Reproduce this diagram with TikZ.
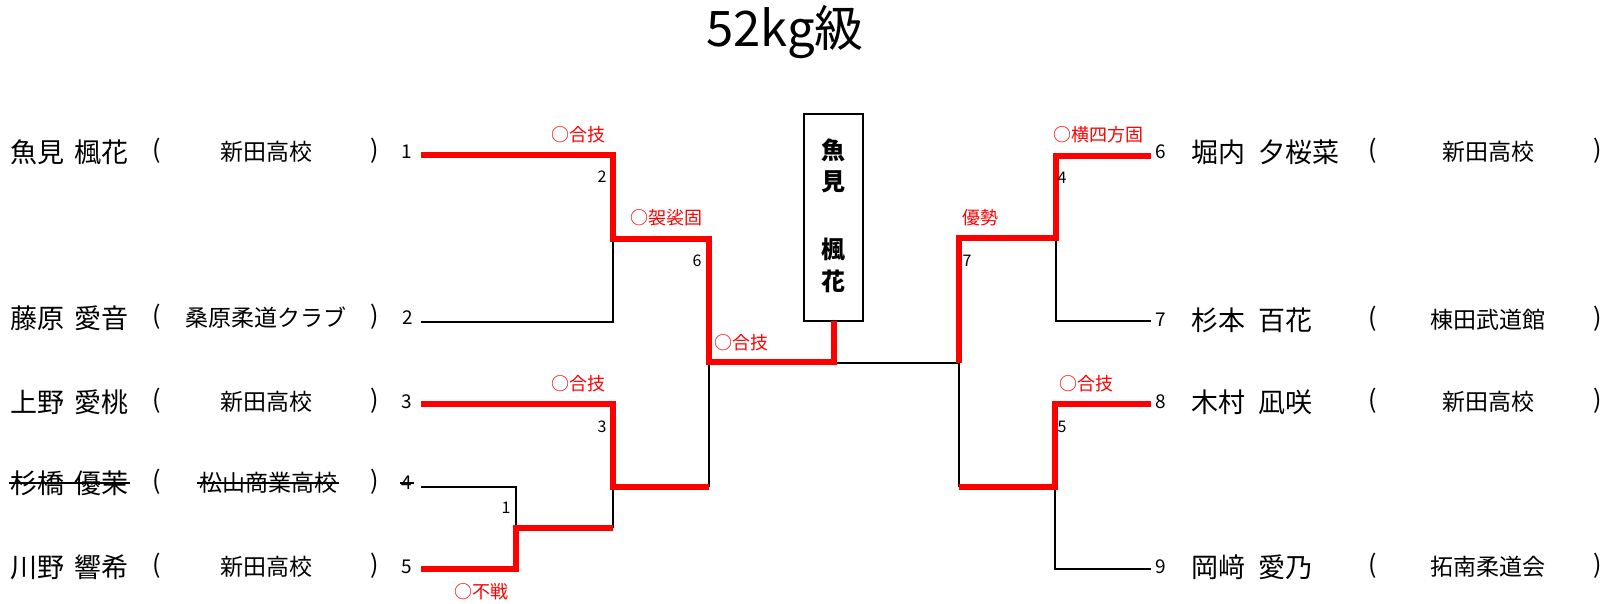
\documentclass[tikz,border=0pt]{standalone}
\usepackage{fontspec}
\setmainfont{Noto Sans CJK JP}
\begin{document}
\begin{tikzpicture}[x=1pt,y=-1pt,
  every node/.style={inner sep=0pt, outer sep=0pt},
  win/.style={draw=red, line width=6pt, line join=miter},
  lose/.style={draw=black, line width=1.8pt},
  namet/.style={font=\fontsize{27}{29}\selectfont, anchor=west},
  scht/.style={font=\fontsize{23}{25}\selectfont},
  part/.style={font=\fontsize{25}{27}\selectfont},
  seedt/.style={font=\fontsize{19}{21}\selectfont},
  matcht/.style={font=\fontsize{16}{18}\selectfont},
  rest/.style={font=\fontsize{18}{20}\selectfont, text=red},
  strike/.style={draw=black, line width=1.6pt},
]
\useasboundingbox (0,0) rectangle (1620,603);

% title
\node[font=\fontsize{49}{52}\selectfont] (title) at (785,32) {52kg級};

% ---------- left entries ----------
\node[namet] (n1) at (10,152) {魚見\hspace{11pt}楓花};
\node[part] (o1) at (157,151) {(};
\node[scht] (s1) at (266,152) {新田高校};
\node[part] (c1) at (375,151) {)};
\node[seedt] (k1) at (407,152) {1};

\node[namet] (n2) at (10,318) {藤原\hspace{11pt}愛音};
\node[part] (o2) at (157,317) {(};
\node[scht] (s2) at (266,318) {桑原柔道クラブ};
\node[part] (c2) at (375,317) {)};
\node[seedt] (k2) at (408,318) {2};

\node[namet] (n3) at (10,402) {上野\hspace{11pt}愛桃};
\node[part] (o3) at (157,401) {(};
\node[scht] (s3) at (266,402) {新田高校};
\node[part] (c3) at (375,401) {)};
\node[seedt] (k3) at (407,402) {3};

\node[namet] (n4) at (10,483) {杉橋\hspace{11pt}優茉};
\node[part] (o4) at (157,482) {(};
\node[scht] (s4) at (268,483) {松山商業高校};
\node[part] (c4) at (375,482) {)};
\node[seedt] (k4) at (407,483) {4};
\draw[strike] ([xshift=-1pt]n4.west) -- ([xshift=1pt]n4.east);
\draw[strike] ([xshift=-2pt]s4.west) -- ([xshift=2pt]s4.east);
\draw[strike] ([xshift=-2pt]k4.west) -- ([xshift=2pt]k4.east);

\node[namet] (n5) at (10,567) {川野\hspace{11pt}響希};
\node[part] (o5) at (157,566) {(};
\node[scht] (s5) at (266,567) {新田高校};
\node[part] (c5) at (375,566) {)};
\node[seedt] (k5) at (407,567) {5};

% ---------- right entries ----------
\node[seedt] (k6) at (1161,152) {6};
\node[namet] (n6) at (1191,152) {堀内\hspace{13pt}夕桜菜};
\node[part] (o6) at (1373,151) {(};
\node[scht] (s6) at (1488,152) {新田高校};
\node[part] (c6) at (1598,151) {)};

\node[seedt] (k7) at (1161,320) {7};
\node[namet] (n7) at (1191,320) {杉本\hspace{13pt}百花};
\node[part] (o7) at (1373,319) {(};
\node[scht] (s7) at (1488,320) {棟田武道館};
\node[part] (c7) at (1598,319) {)};

\node[seedt] (k8) at (1161,402) {8};
\node[namet] (n8) at (1191,402) {木村\hspace{13pt}凪咲};
\node[part] (o8) at (1373,401) {(};
\node[scht] (s8) at (1488,402) {新田高校};
\node[part] (c8) at (1598,401) {)};

\node[seedt] (k9) at (1161,567) {9};
\node[namet] (n9) at (1191,567) {岡﨑\hspace{13pt}愛乃};
\node[part] (o9) at (1373,566) {(};
\node[scht] (s9) at (1488,567) {拓南柔道会};
\node[part] (c9) at (1598,566) {)};

% ---------- champion box ----------
\node[draw=black, line width=1.8pt, minimum width=59pt, minimum height=207pt] (box) at (833.5,217.5) {};
\node[font=\bfseries\fontsize{24}{26}\selectfont] (b1) at (833,150) {魚};
\node[font=\bfseries\fontsize{24}{26}\selectfont] (b2) at (833,182) {見};
\node[font=\bfseries\fontsize{24}{26}\selectfont] (b3) at (833,250) {楓};
\node[font=\bfseries\fontsize{24}{26}\selectfont] (b4) at (833,281) {花};

% ---------- coordinates ----------
\coordinate (L1) at (421,155);
\coordinate (L2) at (421,322);
\coordinate (L3) at (421,404);
\coordinate (L4) at (421,487);
\coordinate (L5) at (421,569);
\coordinate (R6) at (1151,156);
\coordinate (R7) at (1151,321);
\coordinate (R8) at (1151,404);
\coordinate (R9) at (1151,569);
\coordinate (m1) at (516,528);
\coordinate (m2) at (613,239);
\coordinate (m3) at (613,487);
\coordinate (m6) at (709,362);
\coordinate (m4) at (1056,238);
\coordinate (m5) at (1055,487);
\coordinate (m7) at (959,363);
\coordinate (fin) at (833,363);

% ---------- losing (black) lines ----------
\draw[lose] (L2) -| (m2);
\draw[lose] (L4) -| (m1);
\draw[lose] (m1 -| m2) -- (m3);
\draw[lose] (m3 -| m6) -- (m6);
\draw[lose] (fin) -- (m7);
\draw[lose] (R7) -| (m4);
\draw[lose] (R9) -| (m5);
\draw[lose] (m5 -| m7) -- (m7);

% ---------- winning (red) lines ----------
\draw[win] (L1) -| (m2) -| (m6) -| (box.south);
\draw[win] (L5) -| (m1) -- (m1 -| m2);
\draw[win] (L3) -| (m3) -- (m3 -| m6);
\draw[win] (R6) -| (m4) -| (m7);
\draw[win] (R8) -| (m5) -- (m5 -| m7);

% ---------- match numbers ----------
\node[matcht] (x2) at (602,177) {2};
\node[matcht] (x6) at (697,261) {6};
\node[matcht] (x3) at (602,427) {3};
\node[matcht] (x1) at (506,508) {1};
\node[matcht] (x7) at (967,261) {7};
\node[matcht] (x4) at (1062,178) {4};
\node[matcht] (x5) at (1062,427) {5};

% ---------- results ----------
\node[rest] (r1) at (578,135) {○合技};
\node[rest] (r2) at (666,218) {○袈裟固};
\node[rest] (r3) at (741,343) {○合技};
\node[rest] (r4) at (578,384) {○合技};
\node[rest] (r5) at (481,592) {○不戦};
\node[rest] (r6) at (980,218) {優勢};
\node[rest] (r7) at (1098,135) {○横四方固};
\node[rest] (r8) at (1086,384) {○合技};
\end{tikzpicture}
\end{document}
